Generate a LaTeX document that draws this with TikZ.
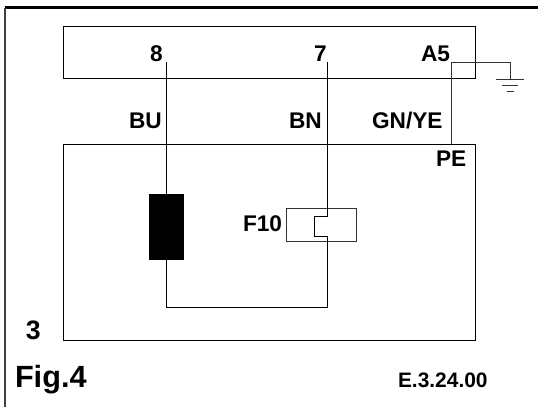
\documentclass[tikz,border=0pt]{standalone}
\usepackage{fontspec}
\setmainfont{Liberation Sans}
\begin{document}
\begin{tikzpicture}[x = 0.75pt, y = -0.75pt, line width = 0.7pt,
    label/.style = {anchor = base west, inner sep = 0pt, outer sep = 0pt, font = \fontsize{17}{17}\selectfont\bfseries},
    box/.style = {shape = rectangle, draw, inner sep = 0pt, outer sep = 0pt}]
    \useasboundingbox (0,0) rectangle (538,407);
    \coordinate (cornerTop) at (538,7.5);
    \coordinate (cornerIn) at (5,7.5);
    \coordinate (cornerBot) at (5,407);
    \draw[line width = 1.9pt] (cornerTop) -- (cornerIn);
    \draw[line width = 1.2pt, black!75] (cornerIn) -- (cornerBot);
    \node[box, minimum width = 309pt, minimum height = 38.6pt] (panel) at (269.75,52.25) {};
    \node[box, minimum width = 309pt, minimum height = 147pt] (unit) at (269.75,242) {};
    \node[box, fill = black, minimum width = 25.5pt, minimum height = 49.4pt] (coil) at (166,227) {};
    \node[box, black!80, minimum width = 52.2pt, minimum height = 24.8pt] (fuse) at (321.2,225.2) {};
    \coordinate (pin8) at (166,62);
    \coordinate (pin7) at (327.3,62);
    \coordinate (pinA5) at (451,62);
    \coordinate (pinPE) at (451,144);
    \coordinate (fuseTop) at (327.3,216.7);
    \coordinate (fuseTopIn) at (314.3,216.7);
    \coordinate (fuseLowIn) at (314.3,236);
    \coordinate (fuseLow) at (327.3,236);
    \coordinate (wireLow) at (327.3,307.3);
    \coordinate (earthTop) at (510,62);
    \coordinate (earthA) at (510,79);
    \coordinate (earthAl) at (495.7,79);
    \coordinate (earthAr) at (524,79);
    \coordinate (earthBl) at (502,85.5);
    \coordinate (earthBr) at (518,85.5);
    \coordinate (earthCl) at (507,91.5);
    \coordinate (earthCr) at (514,91.5);
    % wires
    \draw (pin8) -- (coil.north);
    \draw (coil.south) |- (wireLow) -- (fuseLow) -- (fuseLowIn) -- (fuseTopIn) -- (fuseTop) -- (pin7);
    \draw[black!80] (pinPE) -- (pinA5) -- (earthTop) -- (earthA);
    \draw[black!80] (earthAl) -- (earthAr);
    \draw[black!80] (earthBl) -- (earthBr);
    \draw[black!80] (earthCl) -- (earthCr);
    % labels
    \node[label] (num8) at (150,61) {8};
    \node[label] (num7) at (314,61) {7};
    \node[label] (numA5) at (421,61.5) {A5};
    \node[label] (colBU) at (129,128) {BU};
    \node[label] (colBN) at (289,128) {BN};
    \node[label] (colGN) at (372,128) {GN/YE};
    \node[label] (numPE) at (436,166) {PE};
    \node[label] (numF) at (243,231) {F10};
    \node[label, font = \fontsize{20}{20}\selectfont\bfseries] (num3) at (26,339) {3};
    \node[label, font = \fontsize{23}{23}\selectfont\bfseries] (figno) at (15,387) {Fig.4};
    \node[label, font = \fontsize{15.7}{16}\selectfont\bfseries] (code) at (398,387) {E.3.24.00};
\end{tikzpicture}
\end{document}
